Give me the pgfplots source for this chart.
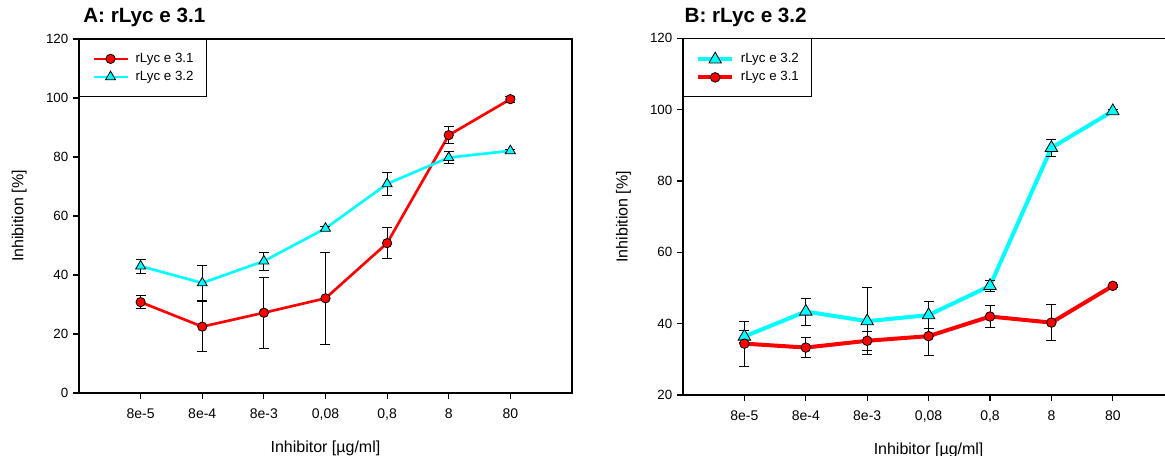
\documentclass[border=0pt]{standalone}
\usepackage{fontspec}
\setmainfont{Liberation Sans}
\usepackage{pgfplots}
\pgfplotsset{compat=1.18}
\definecolor{myred}{RGB}{255,0,0}
\definecolor{mycyan}{RGB}{0,255,255}
\pgfplotsset{
  panel/.style={
    scale only axis,
    xmin=-1, xmax=7,
    xtick={0,...,6},
    xticklabels={8e-5,8e-4,8e-3,{0,08},{0,8},8,80},
    tick align=outside,
    major tick length=4.5pt,
    xtick pos=bottom, ytick pos=left,
    axis line style={line width=0.9pt},
    major tick style={line width=0.8pt, black},
    yticklabel style={font=\fontsize{10}{12}\selectfont},
    xticklabel style={font=\fontsize{10.5}{12}\selectfont, yshift=-4pt},
    /pgf/number format/assume math mode=true,
    label style={font=\fontsize{12}{14}\selectfont},
    xlabel={Inhibitor [µg/ml]},
    ylabel={Inhibition [\%]},
    xlabel style={at={(axis description cs:0.5,0)}, anchor=base, yshift=-45pt},
    ylabel style={at={(axis description cs:-0.1126,0.5)}, anchor=base},
    title style={font=\fontsize{15.5}{18}\selectfont\bfseries, anchor=base west, at={(axis description cs:0,1)}, yshift=6pt, inner sep=0pt},
    legend style={at={(axis description cs:0,1)}, anchor=north west, draw=black, line width=0.8pt, fill=white,
      inner xsep=9.5pt, inner ysep=10pt, row sep=4.5pt, font=\fontsize{10}{12}\selectfont,
      nodes={inner sep=0pt, text height=7pt, text depth=2pt},
      /tikz/every odd column/.append style={column sep=5pt}},
    legend cell align=left,
    legend image code/.code={\draw[mark repeat=2,mark phase=2,##1] plot coordinates {(0pt,0pt) (12.75pt,0pt) (25.5pt,0pt)};},
  },
  ebar/.style={error bars/.cd, y dir=both, y explicit,
    error bar style={black, line width=0.7pt},
    error mark options={black, rotate=90, mark size=3.75pt, line width=0.7pt}},
}
\begin{document}
\begin{tikzpicture}
% Panel A
\begin{axis}[panel,
  at={(59.25pt,47.25pt)}, anchor=south west,
  width=369.75pt, height=265.5pt,
  ymin=0, ymax=120, ytick={0,20,...,120},
  title={A: rLyc e 3.1}, title style={xshift=3pt}]
\addplot[color=myred, line width=2pt, mark=*, mark options={fill=myred, draw=black, line width=0.6pt, mark size=3.5pt, solid}, ebar]
 coordinates {(0,30.8) +- (0,2.2) (1,22.5) +- (0,8.4) (2,27.2) +- (0,12.1) (3,32.1) +- (0,15.7) (4,50.8) +- (0,5.2) (5,87.4) +- (0,2.8) (6,99.6) +- (0,1.0)};
\addlegendentry{rLyc e 3.1}
\addplot[color=mycyan, line width=2pt, mark=triangle*, mark options={fill=mycyan, draw=black, line width=0.6pt, mark size=4.3pt, solid}, ebar]
 coordinates {(0,43.0) +- (0,2.4) (1,37.3) +- (0,6.0) (2,44.7) +- (0,3.0) (3,55.8) +- (0,0.8) (4,70.9) +- (0,3.8) (5,79.8) +- (0,2.0) (6,82.1) +- (0,0.5)};
\addlegendentry{rLyc e 3.2}
\end{axis}
% Panel B
\begin{axis}[panel,
  at={(512.25pt,45.75pt)}, anchor=south west,
  width=368.4pt, height=267.5pt,
  ymin=20, ymax=120, ytick={20,40,...,120},
  title={B: rLyc e 3.2}, title style={xshift=1pt}]
\addplot[color=mycyan, line width=3pt, mark=triangle*, mark options={fill=mycyan, draw=black, line width=0.6pt, mark size=5.4pt, solid}, ebar]
 coordinates {(0,36.4) +- (0,1.8) (1,43.4) +- (0,3.8) (2,40.7) +- (0,9.4) (3,42.4) +- (0,3.7) (4,50.6) +- (0,1.5) (5,89.3) +- (0,2.4) (6,99.6) +- (0,0.5)};
\addlegendentry{rLyc e 3.2}
\addplot[color=myred, line width=3pt, mark=*, mark options={fill=myred, draw=black, line width=0.6pt, mark size=3.6pt, solid}, ebar]
 coordinates {(0,34.4) +- (0,6.3) (1,33.3) +- (0,2.9) (2,35.2) +- (0,2.7) (3,36.5) +- (0,5.4) (4,42.0) +- (0,3.2) (5,40.3) +- (0,5.0) (6,50.6) +- (0,0.5)};
\addlegendentry{rLyc e 3.1}
\end{axis}
\pgfresetboundingbox
\path[use as bounding box] (0,0) rectangle (873.75pt,342pt);
\end{tikzpicture}
\end{document}
